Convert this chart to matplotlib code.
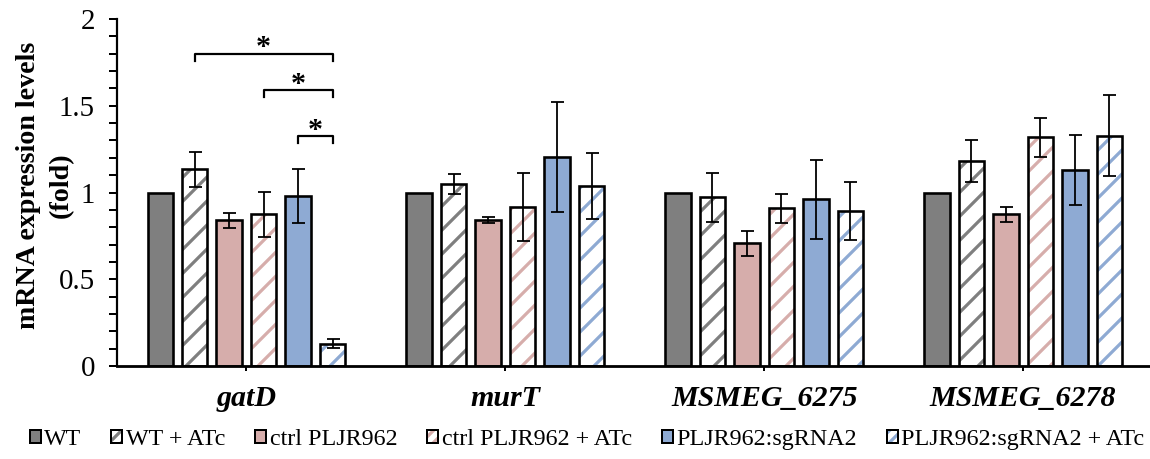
import matplotlib
matplotlib.use("Agg")
import matplotlib.pyplot as plt
import numpy as np
from matplotlib.patches import Patch
from matplotlib.ticker import MultipleLocator

plt.rcParams['font.family'] = ['Liberation Serif', 'DejaVu Serif']
plt.rcParams['hatch.linewidth'] = 3.2

genes = ["gatD", "murT", "MSMEG_6275", "MSMEG_6278"]
series = ["WT", "WT + ATc", "ctrl PLJR962", "ctrl PLJR962 + ATc",
          "PLJR962:sgRNA2", "PLJR962:sgRNA2 + ATc"]
colors = ["#7f7f7f", "#7f7f7f", "#d6adab", "#d6adab", "#8eaad3", "#8eaad3"]
hatched = [False, True, False, True, False, True]

wt = [1.0, 1.0, 1.0, 1.0]
wt_atc = [1.134, 1.05, 0.972, 1.18]
ctrl = [0.84, 0.84, 0.707, 0.874]
ctrl_atc = [0.874, 0.916, 0.909, 1.318]
sg = [0.98, 1.206, 0.96, 1.13]
sg_atc = [0.129, 1.037, 0.893, 1.327]

wt_err = [0.0, 0.0, 0.0, 0.0]
wt_atc_err = [0.10, 0.058, 0.143, 0.12]
ctrl_err = [0.042, 0.018, 0.071, 0.044]
ctrl_atc_err = [0.13, 0.195, 0.085, 0.114]
sg_err = [0.158, 0.316, 0.229, 0.20]
sg_atc_err = [0.027, 0.19, 0.165, 0.234]

values = [wt, wt_atc, ctrl, ctrl_atc, sg, sg_atc]
errors = [wt_err, wt_atc_err, ctrl_err, ctrl_atc_err, sg_err, sg_atc_err]

# significance brackets in gatD group: (from series idx, to series idx, height)
sig_from = [1, 3, 4]
sig_to = [5, 5, 5]
sig_y = [1.80, 1.59, 1.325]

ylabel_lines = ["mRNA expression levels", "(fold)"]

DPI = 72
fig = plt.figure(figsize=(1150 / DPI, 459 / DPI), dpi=DPI)
ax = fig.add_axes([0.1017, 0.2026, 0.8983, 0.756])

slot = 0.1332
width = 0.098
x = np.arange(len(genes))
for i in range(6):
    pos = x + (i - 2.5) * slot
    if hatched[i]:
        ax.bar(pos, values[i], width, color="white", edgecolor=colors[i],
               hatch="/", linewidth=0, zorder=2)
    else:
        ax.bar(pos, values[i], width, color=colors[i], linewidth=0, zorder=2)
    ax.bar(pos, values[i], width, fill=False, edgecolor="black",
           linewidth=2.6, zorder=3)
    err = np.array(errors[i])
    mask = err > 0
    ax.errorbar(pos[mask], np.array(values[i])[mask], yerr=err[mask], fmt="none",
                ecolor="black", elinewidth=1.8, capsize=6.5, capthick=1.8, zorder=4)

# brackets
for f, t, h in zip(sig_from, sig_to, sig_y):
    x0 = x[0] + (f - 2.5) * slot
    x1 = x[0] + (t - 2.5) * slot
    ax.plot([x0, x0, x1, x1], [h - 0.04, h, h, h - 0.04], color="black",
            lw=2.2, zorder=5, solid_joinstyle="round")
    ax.text((x0 + x1) / 2, h + 0.035, "*", ha="center", va="center",
            fontsize=30, fontweight="bold")

ax.set_xlim(-0.5, 3.49)
ax.set_ylim(0, 2)
ax.set_xticks(x)
ax.set_xticklabels(genes, fontsize=30, fontweight="bold", fontstyle="italic")
ax.yaxis.set_major_locator(MultipleLocator(0.5))
ax.yaxis.set_minor_locator(MultipleLocator(0.1))
ax.set_yticks([0, 0.5, 1, 1.5, 2])
ax.set_yticklabels(["0", "0.5", "1", "1.5", "2"], fontsize=29)
ax.tick_params(axis="y", which="both", direction="out", length=8, width=2, pad=14)
ax.tick_params(axis="x", which="major", direction="out", length=5, width=2, pad=14)

for s in ["top", "right"]:
    ax.spines[s].set_visible(False)
ax.spines["left"].set_linewidth(2.2)
ax.spines["bottom"].set_linewidth(2.8)

# y-axis title, two rotated lines
fig.text(0.0245, 0.5956, ylabel_lines[0], rotation=90, ha="center", va="center",
         fontsize=28, fontweight="bold")
fig.text(0.0535, 0.5956, ylabel_lines[1], rotation=90, ha="center", va="center",
         fontsize=28, fontweight="bold")

handles = []
for i in range(6):
    if hatched[i]:
        p1 = Patch(facecolor="white", edgecolor=colors[i], hatch="//", linewidth=0)
        p2 = Patch(fill=False, edgecolor="black", linewidth=2)
        handles.append((p1, p2))
    else:
        handles.append(Patch(facecolor=colors[i], edgecolor="black", linewidth=2))

fig.legend(handles, series, loc="center", bbox_to_anchor=(0.5105, 0.042), ncol=6,
           frameon=False, fontsize=24, handlelength=0.45, handleheight=0.45,
           handletextpad=0.15, columnspacing=1.25, borderaxespad=0)

fig.savefig("out.png", dpi=DPI)
